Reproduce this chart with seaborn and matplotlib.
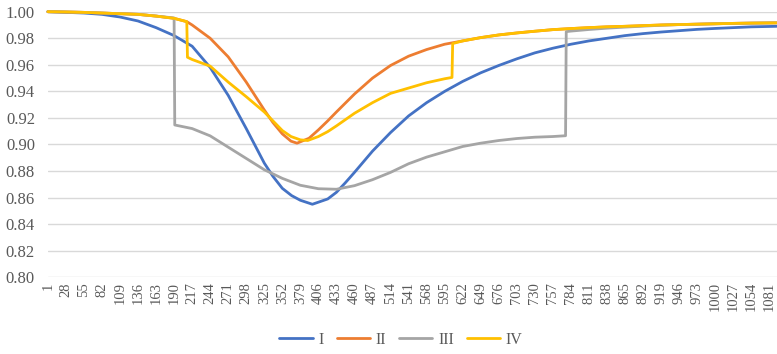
import numpy as np
import pandas as pd
import matplotlib
matplotlib.use("Agg")
import matplotlib.pyplot as plt
import seaborn as sns

# --- values ---
x_I = [1, 28, 55, 82, 109, 136, 163, 190, 217, 244, 271, 298, 325, 338, 352, 366, 379,
       397, 420, 433, 446, 460, 487, 514, 541, 568, 595, 622, 649, 676, 703, 730, 757,
       784, 811, 838, 865, 892, 919, 946, 973, 1000, 1027, 1054, 1092]
y_I = [1.000, 0.9995, 0.999, 0.998, 0.996, 0.993, 0.988, 0.982, 0.974, 0.958, 0.937,
       0.912, 0.886, 0.876, 0.867, 0.8615, 0.858, 0.855, 0.859, 0.864, 0.871, 0.879,
       0.895, 0.909, 0.9215, 0.9315, 0.940, 0.9475, 0.954, 0.9595, 0.9645, 0.969, 0.9725,
       0.9755, 0.978, 0.980, 0.982, 0.9835, 0.9847, 0.9857, 0.9867, 0.9874, 0.988,
       0.9886, 0.989]

x_II = [1, 28, 55, 82, 109, 136, 163, 190, 209, 217, 244, 271, 298, 325, 338, 352, 365,
        374, 392, 406, 420, 433, 460, 487, 514, 541, 568, 595, 622, 649, 676, 703, 730,
        757, 784, 811, 838, 865, 892, 919, 946, 973, 1000, 1027, 1054, 1092]
y_II = [1.000, 0.9998, 0.9995, 0.999, 0.9985, 0.998, 0.9967, 0.995, 0.9925, 0.990,
        0.980, 0.966, 0.947, 0.926, 0.9165, 0.908, 0.9025, 0.901, 0.9047, 0.911, 0.9178,
        0.9245, 0.938, 0.950, 0.9595, 0.9665, 0.9715, 0.9755, 0.978, 0.9805, 0.9825,
        0.984, 0.9853, 0.9865, 0.9873, 0.988, 0.9886, 0.989, 0.9895, 0.990, 0.9903,
        0.9906, 0.9909, 0.9912, 0.9914, 0.9916]

x_III = [1, 28, 55, 82, 109, 136, 163, 190, 191, 217, 244, 271, 298, 325, 352, 379, 406,
         433, 460, 487, 514, 541, 568, 595, 622, 649, 676, 703, 730, 757, 776, 777, 784,
         811, 838, 865, 892, 919, 946, 973, 1000, 1027, 1054, 1092]
y_III = [1.000, 0.9998, 0.9995, 0.999, 0.9985, 0.998, 0.9967, 0.9953, 0.9147, 0.912,
         0.9065, 0.898, 0.8895, 0.881, 0.8745, 0.8693, 0.8667, 0.8663, 0.869, 0.8735,
         0.879, 0.8855, 0.8905, 0.8945, 0.8985, 0.901, 0.903, 0.9045, 0.9055, 0.906,
         0.9066, 0.985, 0.9854, 0.9866, 0.9876, 0.9884, 0.9891, 0.9898, 0.9903, 0.9906,
         0.9909, 0.9912, 0.9914, 0.9916]

x_IV = [1, 28, 55, 82, 109, 136, 163, 190, 209, 210, 217, 244, 271, 298, 325, 352, 365,
        379, 390, 406, 420, 433, 460, 487, 514, 541, 568, 595, 606, 607, 622, 649, 676,
        703, 730, 757, 784, 811, 838, 865, 892, 919, 946, 973, 1000, 1027, 1054, 1092]
y_IV = [1.000, 0.9998, 0.9995, 0.999, 0.9985, 0.998, 0.9967, 0.995, 0.9925, 0.9657,
        0.964, 0.959, 0.947, 0.936, 0.9245, 0.9105, 0.906, 0.9035, 0.903, 0.906, 0.9097,
        0.914, 0.9235, 0.9315, 0.9385, 0.9425, 0.9465, 0.9495, 0.9505, 0.976, 0.978,
        0.9805, 0.9825, 0.984, 0.9853, 0.9865, 0.9873, 0.988, 0.9886, 0.989, 0.9895,
        0.990, 0.9903, 0.9906, 0.9909, 0.9912, 0.9914, 0.9916]

series_names = ["I", "II", "III", "IV"]
series_colors = ["#4472C4", "#ED7D31", "#A5A5A5", "#FFC000"]
x_ticks = list(range(1, 1082, 27))
y_ticks = [0.80, 0.82, 0.84, 0.86, 0.88, 0.90, 0.92, 0.94, 0.96, 0.98, 1.00]

# long table for seaborn
frames = []
for name, xs, ys in zip(series_names, [x_I, x_II, x_III, x_IV], [y_I, y_II, y_III, y_IV]):
    frames.append(pd.DataFrame({"x": xs, "value": ys, "series": name}))
df = pd.concat(frames, ignore_index=True)

sns.set_theme(style="white")
plt.rcParams["font.family"] = ["Liberation Serif", "DejaVu Serif"]
text_color = "#595959"

fig = plt.figure(figsize=(7.77, 3.54), dpi=100)
ax = fig.add_axes([47.5 / 777, 1 - 277.3 / 354, 729.5 / 777, (277.3 - 11.7) / 354])

sns.lineplot(data=df, x="x", y="value", hue="series", hue_order=series_names,
             palette=series_colors, estimator=None, sort=False, linewidth=2.0, ax=ax)
for line in ax.get_lines():
    line.set_clip_on(False)
    line.set_solid_joinstyle("round")

ax.set_xlim(0.5, 1092.5)
ax.set_ylim(0.80, 1.00)
ax.set_xticks(x_ticks)
ax.set_xticklabels([str(t) for t in x_ticks], rotation=90, fontsize=10.5, color=text_color)
ax.set_yticks(y_ticks)
ax.set_yticklabels([f"{t:.2f}" for t in y_ticks], fontsize=12, color=text_color)
ax.tick_params(axis="both", length=0)
ax.tick_params(axis="y", pad=9)
ax.tick_params(axis="x", pad=3.5)
ax.set_xlabel("")
ax.set_ylabel("")
ax.grid(axis="y", color="#D9D9D9", linewidth=1.0)
ax.grid(axis="x", visible=False)
ax.set_axisbelow(True)
for s in ax.spines.values():
    s.set_visible(False)

handles, labels = ax.get_legend_handles_labels()
ax.get_legend().remove()
fig.legend(handles, labels, loc="center", bbox_to_anchor=(0.516, 0.04), ncol=4,
           frameon=False, fontsize=11.5, handlelength=2.1, handletextpad=0.35,
           columnspacing=0.8, labelcolor=text_color)

fig.savefig("out.png", dpi=100)
